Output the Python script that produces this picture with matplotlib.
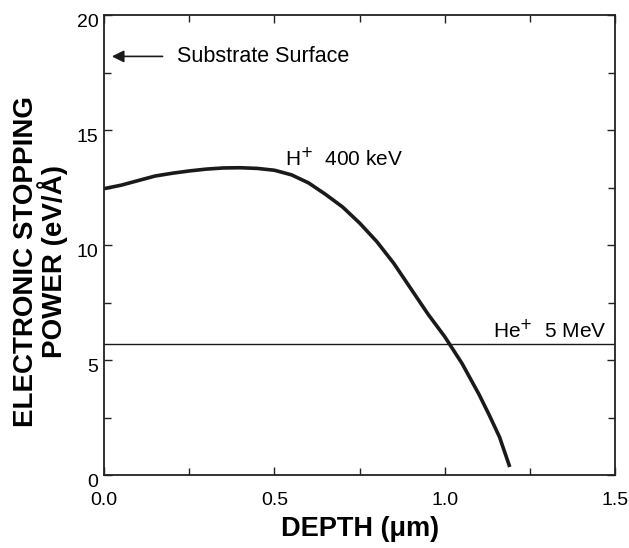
import matplotlib
matplotlib.use("Agg")
import matplotlib.pyplot as plt
from matplotlib.ticker import MultipleLocator
from matplotlib.transforms import ScaledTranslation

plt.rcParams['font.family'] = ['Liberation Sans', 'DejaVu Sans']

# H+ 400 keV stopping power curve
depth = [0.0, 0.05, 0.10, 0.15, 0.20, 0.25, 0.30, 0.35, 0.40, 0.45, 0.50,
         0.55, 0.60, 0.65, 0.70, 0.75, 0.80, 0.85, 0.90, 0.95, 1.00, 1.05,
         1.10, 1.13, 1.16, 1.19]
h_power = [12.45, 12.6, 12.8, 13.0, 13.12, 13.22, 13.3, 13.35, 13.36, 13.33,
           13.25, 13.05, 12.7, 12.2, 11.65, 10.95, 10.15, 9.2, 8.1, 7.0, 6.0,
           4.85, 3.5, 2.6, 1.65, 0.35]

# He+ 5 MeV is flat over the range
he_power = 5.7

x_ticks = [0.0, 0.5, 1.0, 1.5]
x_labels = ['0.0', '0.5', '1.0', '1.5']
y_ticks = [0, 5, 10, 15, 20]

fig = plt.figure(figsize=(6.29, 5.48), dpi=100)
ax = fig.add_axes([0.1653, 0.1332, 0.8132, 0.8394])

ax.plot(depth, h_power, color='#1a1a1a', linewidth=2.6,
        solid_capstyle='butt', solid_joinstyle='round')
ax.axhline(he_power, color='#1a1a1a', linewidth=1.0)

ax.set_xlim(0, 1.5)
ax.set_ylim(0, 20)
ax.set_xticks(x_ticks)
ax.set_xticklabels(x_labels)
ax.set_yticks(y_ticks)
ax.xaxis.set_minor_locator(MultipleLocator(0.25))
ax.yaxis.set_minor_locator(MultipleLocator(2.5))
ax.tick_params(which='both', direction='in', top=True, right=True,
               labelsize=14, width=1.0, color='#222222')
ax.tick_params(which='major', length=6)
ax.tick_params(axis='x', which='major', pad=12)
ax.tick_params(axis='y', which='major', pad=4)
ax.tick_params(which='minor', length=5)
for s in ax.spines.values():
    s.set_linewidth(1.3)
    s.set_color('#222222')

# y tick labels sit a little low in the original
shift = ScaledTranslation(0, -5 / 100, fig.dpi_scale_trans)
for lab in ax.get_yticklabels():
    lab.set_transform(lab.get_transform() + shift)

ax.set_xlabel('DEPTH (\u03bcm)', fontsize=19.5, fontweight='bold', labelpad=5)
ax.set_ylabel('ELECTRONIC STOPPING\nPOWER (eV/\u00c5)', fontsize=20,
              fontweight='bold', linespacing=0.92)
ax.yaxis.set_label_coords(-0.070, 0.464)

# annotations
ax.annotate('', xy=(0.015, 18.2), xytext=(0.18, 18.2),
            arrowprops=dict(arrowstyle='-|>', color='#1a1a1a', lw=1.2,
                            mutation_scale=18))
ax.text(0.214, 18.2, 'Substrate Surface', fontsize=15.5, va='center', ha='left')
ax.text(0.53, 13.75, 'H$^{+}$  400 keV', fontsize=15, va='center', ha='left')
ax.text(1.14, 6.3, 'He$^{+}$  5 MeV', fontsize=15, va='center', ha='left')

fig.savefig('out.png', dpi=100)
